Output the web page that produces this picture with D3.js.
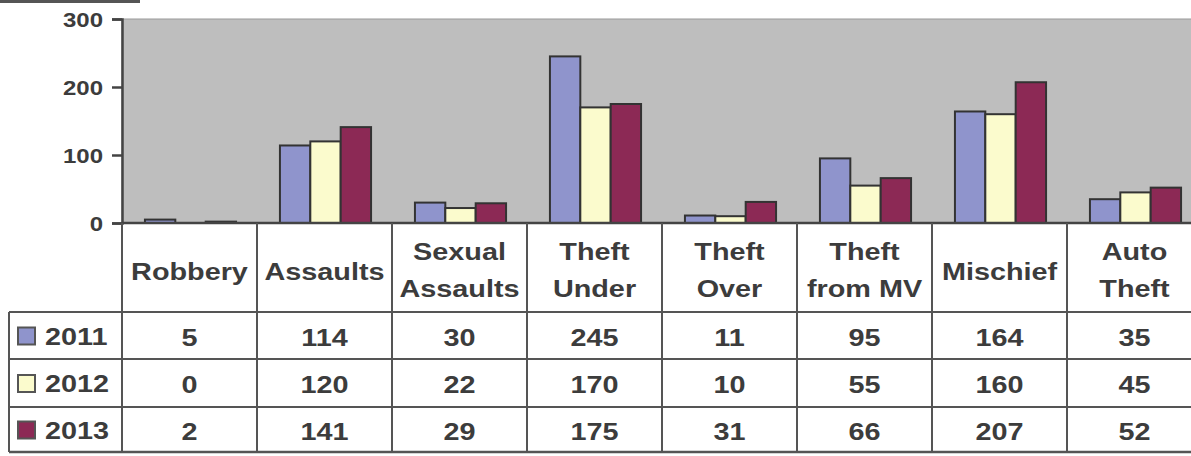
<!DOCTYPE html>
<html>
<head>
<meta charset="utf-8">
<script src="https://cdn.jsdelivr.net/npm/d3@7"></script>
<style>
  html, body { margin: 0; padding: 0; background: #fff; overflow: hidden; }
  svg { display: block; }
  text { font-family: "Liberation Sans", Arial, sans-serif; font-weight: bold; fill: #3c3c3c; }
</style>
</head>
<body>
<svg id="chart"></svg>
<script>
// données
const categories = ["Robbery", "Assaults", "Sexual\nAssaults", "Theft\nUnder", "Theft\nOver", "Theft\nfrom MV", "Mischief", "Auto\nTheft"];
const years = ["2011", "2012", "2013"];
const values2011 = [5, 114, 30, 245, 11, 95, 164, 35];
const values2012 = [0, 120, 22, 170, 10, 55, 160, 45];
const values2013 = [2, 141, 29, 175, 31, 66, 207, 52];
const yTicks = [0, 100, 200, 300];
const colors = ["#8f94cc", "#fbfbcd", "#8c2955"];

const width = 1191;
const height = 456;
const series = [values2011, values2012, values2013];

// le scan est étiré horizontalement -> on étire le texte aussi
const stretch = 1.2;
const ink = "#444";

const svg = d3.select("#chart")
    .attr("width", width)
    .attr("height", height);

const plotLeft = 122, plotRight = 1202, plotTop = 19, zeroY = 223;
const rowLines = [312, 359, 407, 452];

const x = d3.scaleBand()
    .domain(categories)
    .range([plotLeft, plotRight])
    .padding(0);

const gap = x.bandwidth() * 0.325;
const xInner = d3.scaleBand()
    .domain(years)
    .range([gap / 2 + 1, x.bandwidth() - gap / 2 + 1])
    .padding(0);

const y = d3.scaleLinear()
    .domain([0, 300])
    .range([zeroY, plotTop]);

const label = (g, px, py, str, size, anchor) => g.append("text")
    .attr("transform", `translate(${px},${py}) scale(${stretch},1)`)
    .attr("text-anchor", anchor || "middle")
    .style("font-size", size + "px")
    .text(str);

// trait sombre en haut à gauche (bord du scan)
svg.append("rect")
    .attr("x", 0).attr("y", 0)
    .attr("width", 140).attr("height", 3)
    .attr("fill", "#555");

// fond gris de la zone de tracé
svg.append("rect")
    .attr("x", plotLeft).attr("y", plotTop)
    .attr("width", plotRight - plotLeft).attr("height", zeroY - plotTop)
    .attr("fill", "#bebebe")
    .attr("stroke", "#9a9a9a")
    .attr("stroke-width", 1);

// barres
const groups = svg.append("g")
    .selectAll("g")
    .data(categories)
    .join("g")
    .attr("transform", d => `translate(${x(d)},0)`);

groups.selectAll("rect")
    .data((d, i) => years.map((yr, j) => ({ yr, v: series[j][i], j })))
    .join("rect")
    .attr("x", d => xInner(d.yr))
    .attr("width", xInner.bandwidth())
    .attr("y", d => y(d.v))
    .attr("height", d => zeroY - y(d.v))
    .attr("fill", d => colors[d.j])
    .attr("stroke", "#333")
    .attr("stroke-width", 2);

// axe des y
const yAxis = svg.append("g")
    .attr("transform", `translate(${plotLeft},0)`)
    .call(d3.axisLeft(y).tickValues(yTicks).tickSize(10).tickPadding(0));

yAxis.select(".domain").attr("stroke", ink).attr("stroke-width", 2.5);
yAxis.selectAll(".tick line").attr("stroke", ink).attr("stroke-width", 2.5);
yAxis.selectAll(".tick text")
    .attr("x", null).attr("dy", null)
    .attr("transform", `translate(-19,7) scale(${stretch},1)`)
    .style("font-size", "20px")
    .style("fill", "#3c3c3c")
    .style("font-family", "'Liberation Sans', Arial, sans-serif");

// ligne du zéro
svg.append("line")
    .attr("x1", plotLeft).attr("x2", plotRight)
    .attr("y1", zeroY).attr("y2", zeroY)
    .attr("stroke", ink).attr("stroke-width", 2.5);

// tableau de données
const table = svg.append("g");

// lignes horizontales
rowLines.forEach((ly, i) => table.append("line")
    .attr("x1", 9).attr("x2", plotRight)
    .attr("y1", ly).attr("y2", ly)
    .attr("stroke", "#555").attr("stroke-width", i === 3 ? 2.5 : 2));

// lignes verticales
x.domain().forEach(c => table.append("line")
    .attr("x1", x(c)).attr("x2", x(c))
    .attr("y1", zeroY).attr("y2", rowLines[3])
    .attr("stroke", "#555").attr("stroke-width", 2));
table.append("line")
    .attr("x1", 9).attr("x2", 9)
    .attr("y1", rowLines[0]).attr("y2", rowLines[3])
    .attr("stroke", "#555").attr("stroke-width", 2);

// en-têtes des catégories
categories.forEach(c => {
    const lines = c.split("\n");
    const cx = x(c) + x.bandwidth() / 2;
    if (lines.length === 1) {
        label(table, cx, 280, lines[0], 24);
    } else {
        label(table, cx, 260, lines[0], 24);
        label(table, cx, 297, lines[1], 24);
    }
});

// lignes des années avec légende
years.forEach((yr, j) => {
    const rowTop = rowLines[j], rowBottom = rowLines[j + 1];
    const cy = (rowTop + rowBottom) / 2;
    table.append("rect")
        .attr("x", 18).attr("y", cy - 8)
        .attr("width", 17).attr("height", 17)
        .attr("fill", colors[j])
        .attr("stroke", "#555").attr("stroke-width", 2);
    label(table, 45, cy + 9, yr, 24, "start");
    categories.forEach((c, i) => {
        label(table, x(c) + x.bandwidth() / 2, cy + 10, series[j][i], 24);
    });
});
</script>
</body>
</html>
